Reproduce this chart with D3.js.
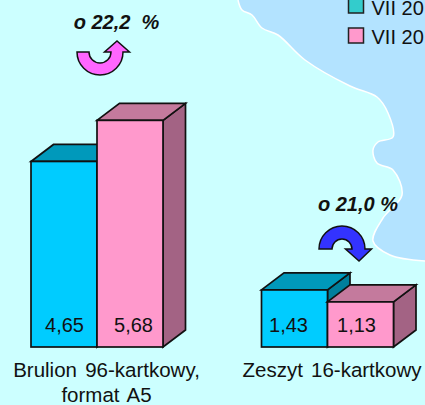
<!DOCTYPE html>
<html><head><meta charset="utf-8">
<script src="https://cdn.jsdelivr.net/npm/d3@7"></script>
<style>html,body{margin:0;padding:0;background:#CCFFFF;overflow:hidden}svg{display:block}text{font-family:"Liberation Sans",Arial,sans-serif;fill:#111}</style>
</head><body><div id="c"></div>
<script>
const categories = ["Brulion 96-kartkowy,|format A5", "Zeszyt 16-kartkowy"];
const seriesNames = ["VII 20", "VII 20"];
const series1 = [4.65, 1.43];
const series2 = [5.68, 1.13];
const changes = ["o 22,2  %", "o 21,0 %"];
const valueLabels = [["4,65","1,43"],["5,68","1,13"]];
const coast = [[238,0],[242,10],[252,15],[262,28],[278,35],[305,60],[350,86],[377,97],[388,113],[393,137],[378,142],[373,150],[377,163],[393,170],[402,195],[383,218],[373,241],[390,255],[425,261]];

const W=425,H=405;
const svg=d3.select("#c").append("svg").attr("width",W).attr("height",H);
svg.append("rect").attr("width",W).attr("height",H).attr("fill","#CCFFFF");
const cl=d3.line().curve(d3.curveCatmullRom.alpha(0.5));
svg.append("path").attr("d",cl(coast)+`L${W},0L${coast[0][0]},0Z`).attr("fill","#B3E3FF").attr("stroke","none");
svg.append("path").attr("d",cl(coast)).attr("fill","none").attr("stroke","#fff").attr("stroke-width",1.5);

const y=d3.scaleLinear().domain([0,6]).range([347,107.6]);
const groupX=d3.scalePoint().domain(d3.range(categories.length)).range([97,327.5]);
const bw=d3.scaleLinear().domain([0,1]).range([0,66]);
const dx=22.5,dy=-17;
const palette=[{front:"#00CCFF",top:"#0099BB",side:"#007F9C"},{front:"#FF99CC",top:"#C47A9D",side:"#A36384"}];
const seriesVals=[series1,series2];
const labelShift=[[0.5,-6],[3.5,-4]];
const poly=p=>"M"+p.map(a=>a.join(",")).join("L")+"Z";
categories.forEach((cat,g)=>{
  seriesVals.forEach((vals,s)=>{
    const x0=groupX(g)+bw(s-1),x1=x0+bw(1),yt=y(vals[g]),yb=y(0),c=palette[s];
    const G=svg.append("g").attr("stroke","#111").attr("stroke-width",1.7).attr("stroke-linejoin","miter");
    G.append("path").attr("d",poly([[x1,yb],[x1,yt],[x1+dx,yt+dy],[x1+dx,yb+dy]])).attr("fill",c.side);
    G.append("path").attr("d",poly([[x0,yt],[x1,yt],[x1+dx,yt+dy],[x0+dx,yt+dy]])).attr("fill",c.top);
    G.append("rect").attr("x",x0).attr("y",yt).attr("width",x1-x0).attr("height",yb-yt).attr("fill",c.front);
    svg.append("text").attr("x",(x0+x1)/2+labelShift[s][g]).attr("y",332).attr("text-anchor","middle")
      .style("font-size","20px").text(valueLabels[s][g]);
  });
  cat.split("|").forEach((t,i)=>{
    svg.append("text").attr("x",g===0?106.5:332).attr("y",377+i*25).attr("text-anchor","middle")
      .style("font-size","20.5px").style("word-spacing","2.5px").text(t);
  });
  svg.append("text").attr("x",g===0?116.5:358).attr("y",g===0?29:211).attr("text-anchor","middle")
    .style("font-size","20px").style("font-weight","bold").style("font-style","italic").style("white-space","pre").text(changes[g]);
});

function arrow(cx,by,flip,fill,headTipDy,R,r){
  const sweepO=flip>0?0:1, sweepI=flip>0?1:0;
  const d=`M${cx-R},${by}A${R},${R} 0 0 ${sweepO} ${cx+R},${by}`+
    `L${cx+R+6.5},${by}L${cx+R-6},${by+headTipDy}L${cx+r-6.5},${by}L${cx+r},${by}`+
    `A${r},${r} 0 0 ${sweepI} ${cx-r},${by}Z`;
  svg.append("path").attr("d",d).attr("fill",fill).attr("stroke","#111").attr("stroke-width",1.5);
}
arrow(100,52,1,"#FF66FF",-11,23,11);
arrow(342,249,-1,"#3333FF",12,23,10);

seriesNames.forEach((n,i)=>{
  const yy=-2+i*30;
  svg.append("rect").attr("x",348.5).attr("y",yy).attr("width",15).attr("height",15)
    .attr("fill",i===0?"#33CCCC":"#FF99CC").attr("stroke","#222").attr("stroke-width",1.5);
  svg.append("text").attr("x",371.5).attr("y",15+i*29).style("font-size","20px").text(n);
});
</script></body></html>
